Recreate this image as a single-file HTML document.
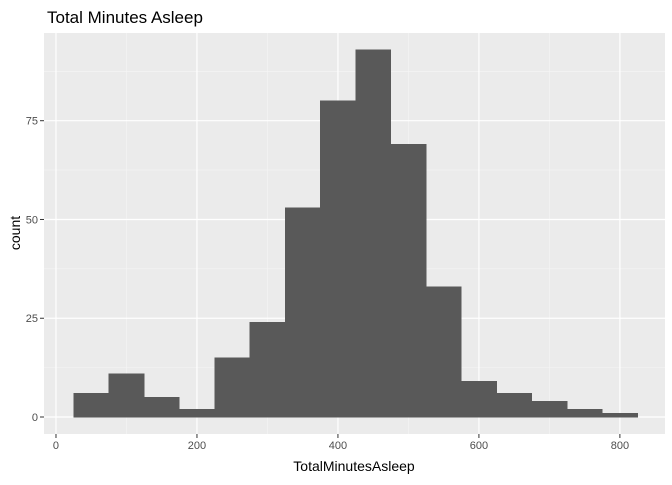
<!DOCTYPE html>
<html><head><meta charset="utf-8"><style>
body{margin:0;background:#fff;font-family:"Liberation Sans",Arial,sans-serif}
svg text{font-family:"Liberation Sans",Arial,sans-serif}
</style></head><body>
<svg id="chart" width="672" height="480" xmlns="http://www.w3.org/2000/svg">
<rect width="672" height="480" fill="#fff"/>
<text x="47" y="23" font-size="17" fill="#000">Total Minutes Asleep</text>
<rect x="44" y="33" width="621" height="401" fill="#ebebeb"/>
<g id="grid"></g><g id="bars" shape-rendering="crispEdges"></g><g id="axes"></g>
<text x="354" y="471" font-size="14" text-anchor="middle" fill="#000">TotalMinutesAsleep</text>
<text transform="translate(20,233) rotate(-90)" font-size="14" text-anchor="middle" fill="#000">count</text>
</svg>
<script>
const binStarts=[25,75,125,175,225,275,325,375,425,475,525,575,625,675,725,775];
const counts=[6,11,5,2,15,24,53,80,93,69,33,9,6,4,2,1];
const binWidth=50;
const xTicks=[0,200,400,600,800];
const yTicks=[0,25,50,75];
const NS="http://www.w3.org/2000/svg";
const px0=44,px1=665,py0=33,py1=434;
const xmin=-17,xmax=864,ymin=-4.3,ymax=97.2;
const X=v=>px0+(v-xmin)/(xmax-xmin)*(px1-px0);
const Y=v=>py1-(v-ymin)/(ymax-ymin)*(py1-py0);
function mk(t,a,p){const e=document.createElementNS(NS,t);for(const k in a)e.setAttribute(k,a[k]);p.appendChild(e);return e;}
const grid=document.getElementById('grid'),bars=document.getElementById('bars'),axes=document.getElementById('axes');
for(let i=0;i<xTicks.length-1;i++){const v=(xTicks[i]+xTicks[i+1])/2;
 const l=mk('line',{x1:X(v),x2:X(v),y1:py0,y2:py1,stroke:'#f5f5f5','stroke-width':0.6},grid);
 
 }
for(let i=0;i<yTicks.length;i++){const v=yTicks[i]+12.5;
 const l=mk('line',{x1:px0,x2:px1,y1:Y(v),y2:Y(v),stroke:'#f5f5f5','stroke-width':0.6},grid);
 
 }
xTicks.forEach(v=>{const l=mk('line',{x1:X(v),x2:X(v),y1:py0,y2:py1,stroke:'#fff','stroke-width':1.2},grid);
 
 
 const t=mk('line',{x1:X(v),x2:X(v),y1:py1,y2:py1+4,stroke:'#333','stroke-width':1},axes);
 
 
 const tx=mk('text',{x:X(v),y:py1+15,'font-size':11,fill:'#4d4d4d','text-anchor':'middle'},axes);tx.textContent=v;
 
 });
yTicks.forEach(v=>{const l=mk('line',{x1:px0,x2:px1,y1:Y(v),y2:Y(v),stroke:'#fff','stroke-width':1.2},grid);
 
 
 const t=mk('line',{x1:px0-4,x2:px0,y1:Y(v),y2:Y(v),stroke:'#333','stroke-width':1},axes);
 
 
 const tx=mk('text',{x:px0-6,y:Y(v)+4,'font-size':11,fill:'#4d4d4d','text-anchor':'end'},axes);tx.textContent=v;
 
 });
binStarts.forEach((s,i)=>{const r=mk('rect',{x:X(s),y:Y(counts[i]),width:X(s+binWidth)-X(s),height:Y(0)-Y(counts[i]),fill:'#595959',stroke:'#595959','stroke-width':0.6},bars);
 
 });
</script>
</body></html>
